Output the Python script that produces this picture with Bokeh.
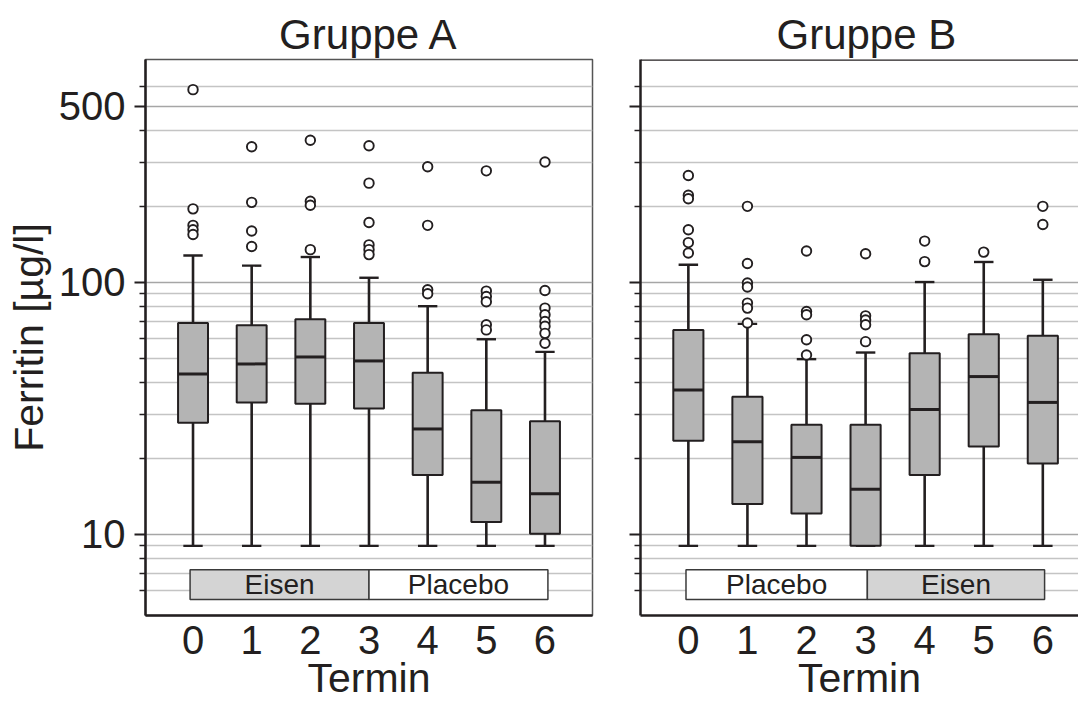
import numpy as np
from bokeh.plotting import figure
from bokeh.layouts import row
from bokeh.models import FixedTicker, PrintfTickFormatter, Span, ColumnDataSource
from bokeh.core.properties import value
from bokeh.embed import file_html
from bokeh.resources import INLINE

# ---------------- data ----------------
termine = [0, 1, 2, 3, 4, 5, 6]
tick_labels = ["0", "1", "2", "3", "4", "5", "6"]

a_q1 = [27.7, 33.4, 33.0, 31.6, 17.2, 11.2, 10.06]
a_med = [43.3, 47.5, 50.6, 48.8, 26.2, 16.1, 14.5]
a_q3 = [69.0, 67.7, 71.5, 69.0, 43.8, 31.1, 28.1]
a_lo = [9, 9, 9, 9, 9, 9, 9]
a_hi = [128, 116.6, 126.2, 104.4, 80.5, 59.5, 53.0]
a_out = [
    [583, 196, 168.6, 162, 155],
    [346, 208, 160, 139],
    [367, 210, 202.5, 135],
    [349, 248, 173, 141, 135, 129],
    [288, 168.6, 93.5, 90.2],
    [277.5, 92.4, 88, 83.8, 67.9, 64.8],
    [301, 92.9, 79.1, 74.4, 70, 67, 62.8, 57.4],
]

b_q1 = [23.5, 13.2, 12.1, 9.0, 17.2, 22.3, 19.1]
b_med = [37.4, 23.3, 20.2, 15.1, 31.3, 42.3, 33.4]
b_q3 = [64.8, 35.2, 27.2, 27.2, 52.4, 62.3, 61.4]
b_lo = [9, 9, 9, 9, 9, 9, 9]
b_hi = [117.6, 68.5, 49.6, 52.7, 100.4, 120.6, 102.5]
b_out = [
    [266, 222, 215, 162, 144, 131],
    [200.6, 119, 99.5, 95.9, 82.8, 79.1, 69],
    [133.4, 76.7, 74.4, 59.2, 51.5],
    [130, 73.7, 71, 67.9, 58.2],
    [146, 121],
    [132],
    [200.6, 170],
]

# treatment phases
a_phase_labels = ["Eisen", "Placebo"]
a_phase_left = [-0.05, 3.0]
a_phase_right = [3.0, 6.05]
a_phase_fill = ["#d4d4d4", "#ffffff"]
b_phase_labels = ["Placebo", "Eisen"]
b_phase_left = [-0.04, 3.03]
b_phase_right = [3.03, 6.03]
b_phase_fill = ["#ffffff", "#d4d4d4"]
phase_bottom = 5.51
phase_top = 7.24

y_major = [10, 100, 500]
y_minor = [6, 7, 8, 9, 20, 30, 40, 50, 60, 70, 80, 90, 200, 300, 400, 600]
Y_MIN, Y_MAX = 4.76, 768

FONT = "Liberation Sans"
INK = "#231f20"
BOX_W = 0.51
CAP_W = 0.33


def make_panel(title, q1, med, q3, lo, hi, outl, ph_lab, ph_l, ph_r, ph_fill,
               width, x_end, left_border, right_border, first):
    p = figure(width=width, height=713, x_range=(-0.81, x_end), y_range=(Y_MIN, Y_MAX),
               y_axis_type="log", output_backend="svg", toolbar_location=None,
               min_border_left=left_border, min_border_right=right_border,
               min_border_top=59, min_border_bottom=98)
    p.background_fill_color = "white"
    p.border_fill_color = "white"

    # title
    p.title.text = title
    p.title.text_font = FONT
    p.title.text_font_size = "42px"
    p.title.text_font_style = "normal"
    p.title.text_color = INK
    if first:
        p.title.align = "center"
    else:
        p.title.align = "left"
        p.title.offset = 136
    p.title.standoff = 4

    # outline
    if first:
        p.outline_line_color = "#555555"
        p.outline_line_width = 1.5
    else:
        p.outline_line_color = None

    # grids
    p.xgrid.grid_line_color = None
    p.ygrid.grid_line_color = "#a6a6a6"
    p.ygrid.grid_line_width = 1.6
    p.ygrid.minor_grid_line_color = "#c4c4c4"
    p.ygrid.minor_grid_line_width = 1.6

    if not first:
        p.add_layout(Span(location=Y_MAX, dimension="width", line_color=INK, line_width=2.5))

    # y axis
    yt = FixedTicker(ticks=y_major, minor_ticks=y_minor)
    p.yaxis.ticker = yt
    p.yaxis.formatter = PrintfTickFormatter(format="%d")
    p.yaxis.axis_line_color = INK
    p.yaxis.axis_line_width = 2.5
    p.yaxis.major_tick_line_color = INK
    p.yaxis.major_tick_line_width = 2
    p.yaxis.major_tick_out = 11
    p.yaxis.major_tick_in = 0
    p.yaxis.minor_tick_line_color = INK
    p.yaxis.minor_tick_line_width = 1.6
    p.yaxis.minor_tick_out = 6
    p.yaxis.minor_tick_in = 0
    if first:
        p.yaxis.major_label_text_font = FONT
        p.yaxis.major_label_text_font_size = "40px"
        p.yaxis.major_label_text_color = INK
        p.yaxis.major_label_standoff = 9
        p.yaxis.axis_label = "Ferritin [µg/l]"
        p.yaxis.axis_label_text_font = FONT
        p.yaxis.axis_label_text_font_size = "41px"
        p.yaxis.axis_label_text_font_style = "normal"
        p.yaxis.axis_label_text_color = INK
        p.yaxis.axis_label_standoff = 4
    else:
        p.yaxis.major_label_overrides = {t: "" for t in y_major}
        p.yaxis.major_label_standoff = 0

    # x axis
    p.xaxis.ticker = FixedTicker(ticks=termine)
    p.xaxis.major_label_overrides = {t: s for t, s in zip(termine, tick_labels)}
    p.xaxis.axis_line_color = INK
    p.xaxis.axis_line_width = 2.5
    p.xaxis.major_tick_line_color = None
    p.xaxis.minor_tick_line_color = None
    p.xaxis.major_label_text_font = FONT
    p.xaxis.major_label_text_font_size = "40px"
    p.xaxis.major_label_text_color = INK
    p.xaxis.major_label_standoff = 4
    p.xaxis.axis_label = "Termin"
    p.xaxis.axis_label_text_font = FONT
    p.xaxis.axis_label_text_font_size = "41px"
    p.xaxis.axis_label_text_font_style = "normal"
    p.xaxis.axis_label_text_color = INK
    p.xaxis.axis_label_standoff = -2

    x = np.array(termine, dtype=float)
    q1a, meda, q3a = np.array(q1), np.array(med), np.array(q3)
    loa, hia = np.array(lo), np.array(hi)

    # whiskers
    p.segment(x0=x, y0=q3a, x1=x, y1=hia, line_color=INK, line_width=2.6)
    p.segment(x0=x, y0=loa, x1=x, y1=q1a, line_color=INK, line_width=2.6)
    p.segment(x0=x - CAP_W / 2, y0=hia, x1=x + CAP_W / 2, y1=hia, line_color=INK, line_width=2.4)
    p.segment(x0=x - CAP_W / 2, y0=loa, x1=x + CAP_W / 2, y1=loa, line_color=INK, line_width=2.4)

    # boxes
    p.vbar(x=x, width=BOX_W, bottom=q1a, top=q3a, fill_color="#b4b4b4",
           line_color=INK, line_width=2)
    p.segment(x0=x - BOX_W / 2, y0=meda, x1=x + BOX_W / 2, y1=meda, line_color=INK, line_width=3)

    # outliers
    ox, oy = [], []
    for t, vals in zip(termine, outl):
        for v in vals:
            ox.append(t)
            oy.append(v)
    p.scatter(x=ox, y=oy, marker="circle", size=9.5, fill_color="white",
              line_color=INK, line_width=1.9)

    # treatment phase bars
    src = ColumnDataSource(dict(left=ph_l, right=ph_r, fill=ph_fill, label=ph_lab,
                                mid=[(a + b) / 2 for a, b in zip(ph_l, ph_r)],
                                bottom=[phase_bottom] * len(ph_l), top=[phase_top] * len(ph_l),
                                ymid=[np.sqrt(phase_bottom * phase_top)] * len(ph_l)))
    p.quad(left="left", right="right", bottom="bottom", top="top", fill_color="fill",
           line_color="#3a3a3a", line_width=1.5, source=src)
    p.text(x="mid", y="ymid", text="label", text_align="center", text_baseline="middle",
           text_font=value(FONT), text_font_size="28px", text_color=INK, source=src)
    return p


pa = make_panel("Gruppe A", a_q1, a_med, a_q3, a_lo, a_hi, a_out,
                a_phase_labels, a_phase_left, a_phase_right, a_phase_fill,
                width=620, x_end=6.81, left_border=145, right_border=28, first=True)
pb = make_panel("Gruppe B", b_q1, b_med, b_q3, b_lo, b_hi, b_out,
                b_phase_labels, b_phase_left, b_phase_right, b_phase_fill,
                width=458, x_end=6.604, left_border=20, right_border=0, first=False)

layout = row(pa, pb)
open("out.html", "w").write(file_html(layout, INLINE))
